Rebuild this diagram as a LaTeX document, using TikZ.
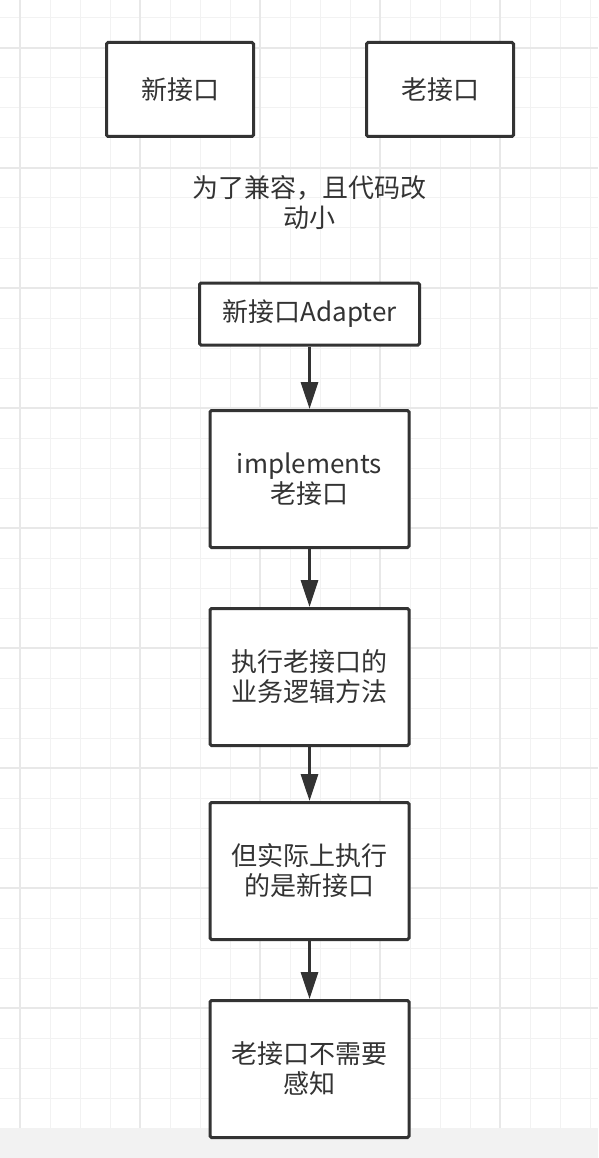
\documentclass[tikz,border=0pt]{standalone}
\usepackage{fontspec}
\setmainfont{Noto Sans CJK SC}
\usetikzlibrary{arrows.meta, positioning}
\definecolor{ink}{HTML}{333333}
\definecolor{gridlo}{HTML}{F2F2F2}
\definecolor{gridhi}{HTML}{E8E8E8}
\definecolor{strip}{HTML}{F2F2F2}
\tikzset{
  box/.style    = {draw=ink, line width=3pt, rounded corners=1.5pt, fill=white,
                   align=center, text=ink},
  topbox/.style = {box, minimum width=147pt, minimum height=94pt},
  stepbox/.style = {box, minimum width=199pt, minimum height=137pt},
  flow/.style   = {-{Triangle[length=27pt, width=17pt]}, line width=3pt, draw=ink},
  gridminor/.style = {gridlo, line width=1pt},
  gridmajor/.style = {gridhi, line width=1.4pt},
  lbl/.style    = {font=\fontsize{26}{30}\selectfont},
}

\begin{document}
\begin{tikzpicture}[x=1pt, y=-1pt]
  \useasboundingbox (0,0) rectangle (598,1158);
  % background grid
  \foreach \gx in {20,50,...,590}
    \draw[gridminor] (\gx,0) -- (\gx,1128);
  \foreach \gy in {18,48,...,1128}
    \draw[gridminor] (0,\gy) -- (598,\gy);
  \foreach \gx in {20,140,...,500}
    \draw[gridmajor] (\gx,0) -- (\gx,1128);
  \foreach \gy in {48,168,...,1008}
    \draw[gridmajor] (0,\gy) -- (598,\gy);
  \fill[strip] (0,1128) rectangle (598,1158);

  % two interfaces
  \node[topbox, lbl] (newif) at (180,89.5) {新接口};
  \node[topbox, lbl] (oldif) at (440,89.5) {老接口};
  \node[lbl, text=ink, align=center] (why) at (309,203) {为了兼容，且代码改\\动小};

  % adapter chain
  \node[box, lbl, minimum width=220pt, minimum height=62pt] (adapter) at (309.5,314) {新接口Adapter};
  \node[stepbox, lbl] (impl)  at (309.5,479)  {implements\\老接口};
  \node[stepbox, lbl] (call)  at (309.5,677)  {执行老接口的\\业务逻辑方法};
  \node[stepbox, lbl] (real)  at (309.5,871)  {但实际上执行\\的是新接口};
  \node[stepbox, lbl] (blind) at (309.5,1069) {老接口不需要\\感知};

  \draw[flow] (adapter) -- (impl);
  \draw[flow] (impl) -- (call);
  \draw[flow] (call) -- (real);
  \draw[flow] (real) -- (blind);
\end{tikzpicture}
\end{document}
